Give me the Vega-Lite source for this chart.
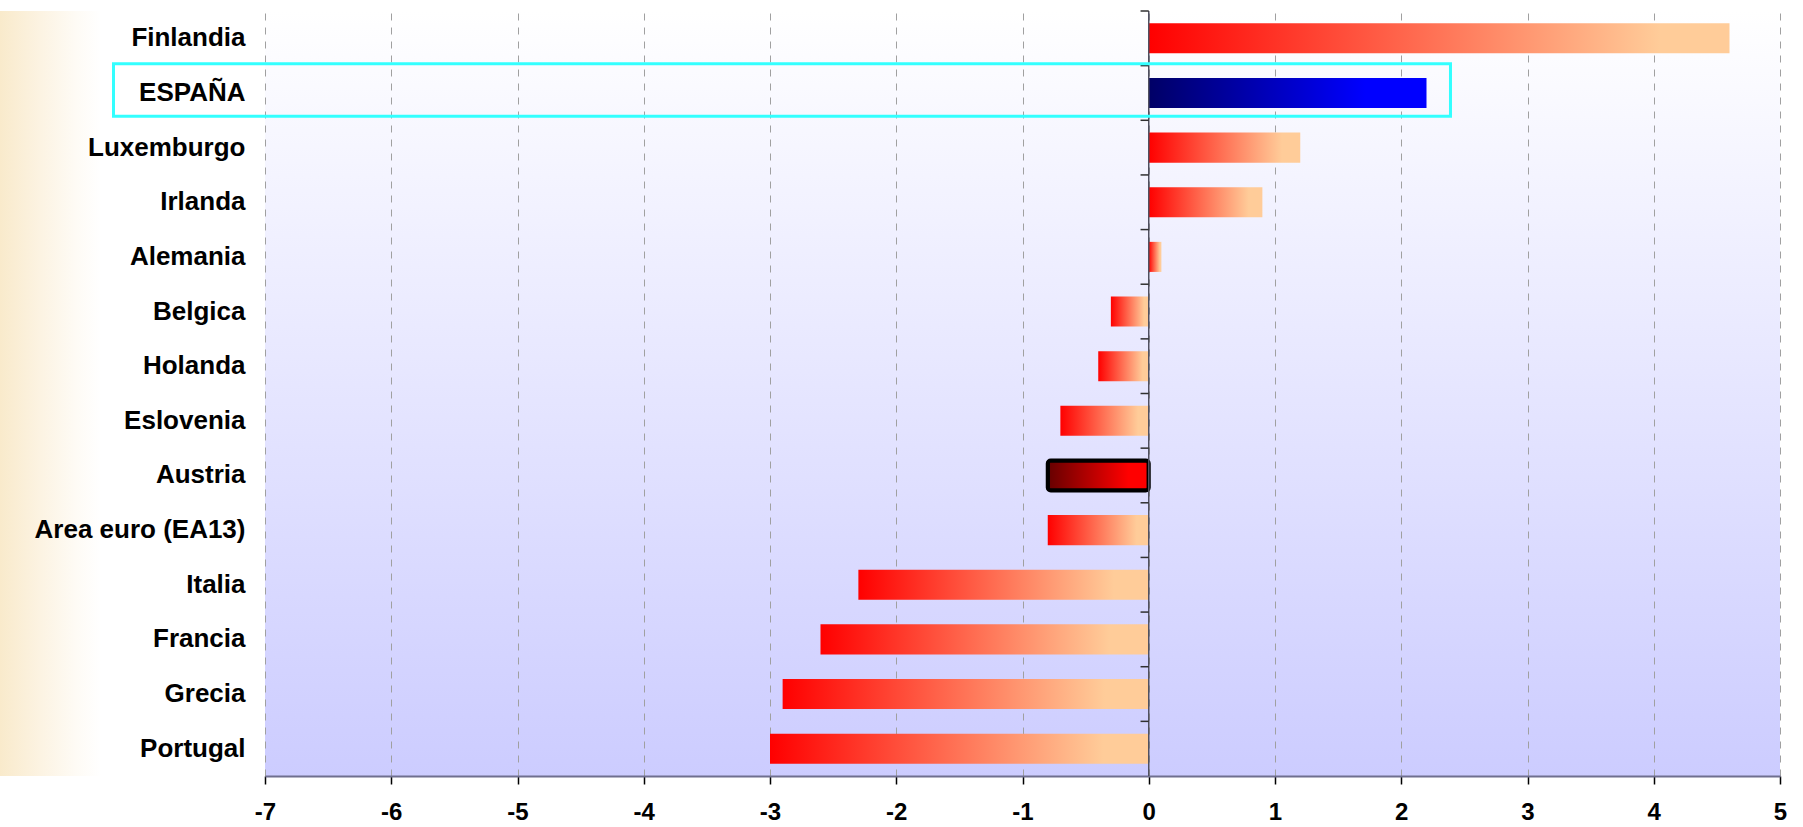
{
  "$schema": "https://vega.github.io/schema/vega-lite/v6.json",
  "width": 1515,
  "height": 765,
  "autosize": {"type": "none"},
  "padding": {"left": 265, "top": 11, "right": 23, "bottom": 51},
  "background": "white",
  "config": {
    "font": "Liberation Sans",
    "view": {
      "stroke": null,
      "fill": {"gradient": "linear", "x1": 0, "y1": 0, "x2": 0, "y2": 1,
        "stops": [{"offset": 0, "color": "#ffffff"}, {"offset": 1, "color": "#ccccff"}]}
    }
  },
  "data": {"values": [
    {"pais": "Finlandia", "valor": 4.6},
    {"pais": "ESPAÑA", "valor": 2.2},
    {"pais": "Luxemburgo", "valor": 1.2},
    {"pais": "Irlanda", "valor": 0.9},
    {"pais": "Alemania", "valor": 0.1},
    {"pais": "Belgica", "valor": -0.3},
    {"pais": "Holanda", "valor": -0.4},
    {"pais": "Eslovenia", "valor": -0.7},
    {"pais": "Austria", "valor": -0.8},
    {"pais": "Area euro (EA13)", "valor": -0.8},
    {"pais": "Italia", "valor": -2.3},
    {"pais": "Francia", "valor": -2.6},
    {"pais": "Grecia", "valor": -2.9},
    {"pais": "Portugal", "valor": -3.0}
  ]},
  "layer": [
    {
      "data": {"values": [{}]},
      "mark": {"type": "rect", "fill": {"gradient": "linear", "x1": 0, "y1": 0, "x2": 1, "y2": 0,
        "stops": [{"offset": 0, "color": "#f9eacb"}, {"offset": 0.4, "color": "#fcf3e2"}, {"offset": 0.75, "color": "#fefbf5"}, {"offset": 1, "color": "#ffffff"}]}},
      "encoding": {"x": {"datum": -9.1}, "x2": {"datum": -8.3}}
    },
    {
      "transform": [{"filter": "datum.pais != 'ESPAÑA' && datum.pais != 'Austria'"}],
      "mark": {"type": "bar", "fill": {"gradient": "linear", "x1": 0, "y1": 0, "x2": 1, "y2": 0,
        "stops": [{"offset": 0, "color": "#ff0000"}, {"offset": 0.88, "color": "#ffcc99"}, {"offset": 1, "color": "#ffcc99"}]}},
      "encoding": {
        "x": {"field": "valor", "type": "quantitative",
          "scale": {"domain": [-7, 5], "nice": false, "zero": false},
          "axis": {"title": null, "values": [-7,-6,-5,-4,-3,-2,-1,0,1,2,3,4,5], "grid": true,
            "labelExpr": "'' + datum.value",
            "gridDash": [7, 7], "gridColor": "#a0a0a0", "gridWidth": 1,
            "labelFontSize": 24, "labelFontWeight": "bold", "labelColor": "#000000",
            "domainColor": "#6f6f8f", "domainWidth": 2, "tickColor": "#000000",
            "tickSize": 8, "tickWidth": 1.5, "labelPadding": 16, "labelFlush": false}},
        "y": {"field": "pais", "type": "nominal",
          "sort": ["Finlandia","ESPAÑA","Luxemburgo","Irlanda","Alemania","Belgica","Holanda","Eslovenia","Austria","Area euro (EA13)","Italia","Francia","Grecia","Portugal"],
          "scale": {"paddingInner": 0.45, "paddingOuter": 0.225},
          "axis": {"title": null, "domain": false, "ticks": false, "grid": false, "labelPadding": 20,
            "labelLimit": 0, "zindex": 2,
            "labelFontSize": 26, "labelFontWeight": "bold", "labelColor": "#000000"}}
      }
    },
    {
      "transform": [{"filter": "datum.pais == 'ESPAÑA'"}],
      "mark": {"type": "bar", "fill": {"gradient": "linear", "x1": 0, "y1": 0, "x2": 1, "y2": 0,
        "stops": [{"offset": 0, "color": "#000066"}, {"offset": 0.78, "color": "#0000ff"}, {"offset": 1, "color": "#0000ff"}]}},
      "encoding": {
        "x": {"field": "valor", "type": "quantitative"},
        "y": {"field": "pais", "type": "nominal",
          "sort": ["Finlandia","ESPAÑA","Luxemburgo","Irlanda","Alemania","Belgica","Holanda","Eslovenia","Austria","Area euro (EA13)","Italia","Francia","Grecia","Portugal"]}
      }
    },
    {
      "transform": [{"filter": "datum.pais == 'Austria'"}],
      "mark": {"type": "bar", "stroke": "#000000", "strokeWidth": 4, "cornerRadius": 3,
        "fill": {"gradient": "linear", "x1": 0, "y1": 0, "x2": 1, "y2": 0,
        "stops": [{"offset": 0, "color": "#660000"}, {"offset": 0.8, "color": "#ff0000"}, {"offset": 1, "color": "#ff0000"}]}},
      "encoding": {
        "x": {"field": "valor", "type": "quantitative"},
        "y": {"field": "pais", "type": "nominal",
          "sort": ["Finlandia","ESPAÑA","Luxemburgo","Irlanda","Alemania","Belgica","Holanda","Eslovenia","Austria","Area euro (EA13)","Italia","Francia","Grecia","Portugal"]}
      }
    },
    {
      "data": {"values": [{}]},
      "mark": {"type": "rule", "color": "#505060", "strokeWidth": 1.5},
      "encoding": {"x": {"datum": 0}}
    },
    {
      "mark": {"type": "rule", "color": "#303030", "strokeWidth": 1.5},
      "encoding": {
        "x": {"datum": -0.065},
        "x2": {"datum": 0},
        "y": {"field": "pais", "type": "nominal", "bandPosition": -0.409,
          "sort": ["Finlandia","ESPAÑA","Luxemburgo","Irlanda","Alemania","Belgica","Holanda","Eslovenia","Austria","Area euro (EA13)","Italia","Francia","Grecia","Portugal"]}
      }
    },
    {
      "transform": [{"filter": "datum.pais == 'ESPAÑA'"}],
      "mark": {"type": "bar", "fill": null, "fillOpacity": 0, "stroke": "#33ffff", "strokeWidth": 3,
        "height": {"band": 1.75}, "yOffset": -3},
      "encoding": {
        "x": {"datum": -8.2},
        "x2": {"datum": 2.39},
        "y": {"field": "pais", "type": "nominal",
          "sort": ["Finlandia","ESPAÑA","Luxemburgo","Irlanda","Alemania","Belgica","Holanda","Eslovenia","Austria","Area euro (EA13)","Italia","Francia","Grecia","Portugal"]}
      }
    }
  ]
}
